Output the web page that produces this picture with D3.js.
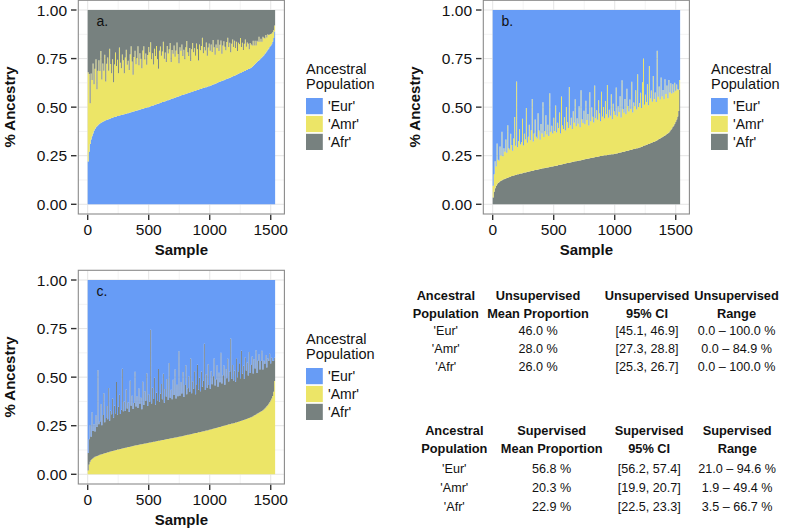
<!DOCTYPE html>
<html>
<head>
<meta charset="utf-8">
<script src="https://cdn.jsdelivr.net/npm/d3@7"></script>
<style>
  html, body { margin: 0; padding: 0; background: #fff; }
  svg { display: block; }
  text { font-family: "Liberation Sans", Arial, Helvetica, sans-serif; fill: #111; }
</style>
</head>
<body>
<svg id="chart" width="794" height="530"></svg>
<script>
// ---------------- DATA ----------------
const binSize = 8;              // samples represented by one value
const sampleTicks = [0, 500, 1000, 1500];
const pctTicks = [0, 0.25, 0.5, 0.75, 1];
const pctTickLabels = ["0.00", "0.25", "0.50", "0.75", "1.00"];
const legendLabels = ["'Eur'", "'Amr'", "'Afr'"];
const legendTitle = ["Ancestral", "Population"];

// Panel a: sorted by Eur (bottom), Amr middle, Afr top
const aEur = [0.22,0.27,0.31,0.333,0.35,0.365,0.378,0.388,0.396,0.402,0.407,0.412,0.416,
0.419,0.422,0.425,0.427,0.43,0.432,0.434,0.436,0.438,0.44,0.442,0.444,0.446,0.448,0.449,0.451,0.452,0.454,0.455,0.457,0.458,0.46,0.461,0.462,0.464,
0.465,0.466,0.468,0.469,0.471,0.472,0.474,0.475,0.477,0.478,0.48,0.481,0.483,0.484,0.486,0.487,0.489,0.49,0.492,0.493,0.495,0.496,0.498,0.499,0.5,
0.502,0.504,0.506,0.508,0.509,0.511,0.513,0.515,0.517,0.518,0.52,0.522,0.524,0.526,0.527,0.529,0.531,0.533,0.535,0.536,0.538,0.54,0.542,0.544,0.545,0.547,0.549,0.551,0.553,0.554,0.556,0.558,0.56,
0.562,0.563,0.565,0.567,0.568,0.57,0.572,0.573,0.575,0.577,0.578,0.58,0.582,0.583,0.585,0.587,0.588,0.59,0.592,0.593,0.595,0.597,0.598,0.6,0.602,0.603,0.605,0.607,0.608,0.61,
0.612,0.614,0.616,0.618,0.62,0.622,0.624,0.627,0.629,0.631,0.633,0.635,0.637,0.639,0.641,0.643,0.645,0.647,0.649,0.651,0.653,0.656,0.658,0.66,0.662,
0.664,0.667,0.669,0.672,0.674,0.676,0.679,0.681,0.684,0.686,0.688,0.691,0.693,0.696,0.698,0.7,0.703,
0.707,0.712,0.717,0.722,0.727,0.732,0.737,0.742,0.747,0.752,0.757,0.762,0.767,
0.774,0.781,0.788,0.795,0.802,0.809,0.816,0.824,0.836,0.856,0.89];
const aAmr = [0.46,0.40,0.21,0.34,0.29,0.36,
0.24,0.31,0.35,0.19,0.28,0.33,
0.27,0.37,0.22,0.30,0.26,0.34,0.20,0.29,0.32,0.25,0.36,0.28,
0.23,0.30,0.18,0.27,0.33,0.26,0.29,0.22,0.35,0.27,0.24,0.31,0.28,0.21,
0.29,0.33,0.25,0.27,0.22,0.30,0.34,0.26,0.19,0.28,0.31,0.24,0.27,0.33,0.23,0.29,0.26,0.21,0.30,0.32,0.25,0.28,0.22,0.27,0.31,
0.28,0.33,0.24,0.27,0.21,0.29,0.25,0.30,0.23,0.18,0.27,0.29,0.24,0.26,0.31,0.22,0.25,0.20,0.28,0.24,0.26,0.29,0.19,0.25,0.23,0.27,0.21,0.24,0.28,0.22,0.17,0.25,0.23,
0.26,0.20,0.23,0.18,0.24,0.27,0.21,0.19,0.23,0.16,0.22,0.25,0.20,0.22,0.18,0.24,0.21,0.15,0.23,0.20,0.22,0.26,0.18,0.21,0.19,0.23,0.16,0.20,0.22,0.18,
0.21,0.17,0.23,0.19,0.15,0.20,0.18,0.22,0.16,0.19,0.21,0.14,0.18,0.20,0.17,0.15,0.19,0.21,0.16,0.18,0.13,0.17,0.19,0.15,0.18,
0.14,0.17,0.12,0.16,0.15,0.18,0.13,0.15,0.11,0.14,0.16,0.12,0.14,0.13,0.10,0.13,0.12,
0.11,0.13,0.10,0.12,0.09,0.11,0.10,0.12,0.09,0.10,0.08,0.10,0.09,
0.08,0.09,0.07,0.08,0.07,0.065,0.06,0.055,0.05,0.04,0.03];

// Panel b: sorted by Afr (bottom), Amr middle, Eur top
const bAfr = [0.035,0.065,0.082,0.094,0.103,0.109,0.114,0.118,0.121,0.124,0.127,0.129,0.131,0.133,0.135,0.137,0.139,0.141,0.143,0.145,0.146,0.148,0.149,0.151,0.152,0.154,
0.155,0.156,0.158,0.159,0.16,0.162,0.163,0.164,0.165,0.167,0.168,0.169,
0.17,0.171,0.172,0.173,0.175,0.176,0.177,0.178,0.179,0.18,0.182,0.183,0.184,0.185,0.186,0.187,0.188,0.189,0.19,0.191,0.192,0.193,0.194,0.195,0.196,
0.197,0.198,0.199,0.2,0.202,0.203,0.204,0.205,0.206,0.207,0.208,0.21,0.211,0.212,0.213,0.214,0.215,0.216,0.218,0.219,0.22,0.221,0.222,0.223,0.224,0.225,0.226,0.227,0.228,0.229,0.231,
0.232,0.233,0.234,0.235,0.236,0.237,0.238,0.239,0.24,0.241,0.242,0.243,0.244,0.245,0.246,0.247,0.248,0.249,0.25,0.251,0.252,0.252,0.253,0.254,0.255,0.256,0.256,0.257,0.258,0.258,0.259,
0.26,0.261,0.262,0.264,0.265,0.266,0.267,0.269,0.27,0.271,0.272,0.274,0.275,0.276,0.277,0.279,0.28,0.281,0.283,0.284,0.285,0.287,0.288,0.289,0.291,
0.292,0.294,0.296,0.298,0.3,0.302,0.304,0.306,0.308,0.31,0.312,0.314,0.316,0.318,0.32,0.322,0.325,0.327,0.33,
0.333,0.336,0.339,0.342,0.345,0.348,0.351,0.354,0.358,0.362,0.366,0.37,
0.376,0.383,0.39,0.398,0.406,0.415,0.425,0.437,0.452,0.48,0.59];
const bAmr = [0.06,0.09,0.14,0.10,0.21,0.12,0.11,0.18,0.13,0.25,0.12,0.16,
0.14,0.20,0.13,0.27,0.15,0.14,0.22,0.16,0.13,0.19,0.30,0.15,0.48,0.14,
0.17,0.23,0.15,0.16,0.28,0.14,0.20,0.17,0.33,0.15,0.18,0.24,
0.16,0.21,0.37,0.15,0.19,0.26,0.17,0.16,0.29,0.20,0.15,0.23,0.18,0.34,0.16,0.19,0.27,0.17,0.22,0.16,0.38,0.18,0.21,0.17,0.25,
0.18,0.31,0.17,0.22,0.19,0.27,0.16,0.35,0.20,0.18,0.24,0.17,0.29,0.21,0.18,0.39,0.19,0.23,0.17,0.26,0.20,0.32,0.18,0.22,0.19,0.28,0.17,0.36,0.21,0.19,0.25,
0.18,0.30,0.20,0.23,0.17,0.34,0.19,0.26,0.21,0.18,0.37,0.20,0.24,0.19,0.29,0.22,0.18,0.33,0.20,0.25,0.19,0.28,0.21,0.36,0.19,0.23,0.20,0.31,0.18,0.26,0.22,
0.20,0.34,0.19,0.24,0.21,0.29,0.18,0.37,0.22,0.20,0.27,0.19,0.32,0.23,0.20,0.26,0.21,0.35,0.19,0.24,0.22,0.30,0.20,0.38,0.21,
0.23,0.28,0.20,0.33,0.45,0.21,0.26,0.22,0.31,0.20,0.40,0.23,0.27,0.21,0.34,0.22,0.25,0.20,0.46,
0.22,0.27,0.20,0.31,0.21,0.24,0.19,0.29,0.21,0.25,0.18,0.27,
0.20,0.24,0.18,0.22,0.17,0.21,0.16,0.18,0.14,0.11,0.05];

// Panel c: sorted by Amr (bottom), Afr middle, Eur top
const cAmr = [0.02,0.05,0.064,0.073,0.079,0.083,0.087,0.09,0.092,0.094,0.096,0.098,0.1,0.102,0.103,0.105,0.107,0.108,0.11,0.111,0.113,0.114,0.116,0.117,0.119,0.12,
0.121,0.123,0.124,0.125,0.127,0.128,0.129,0.13,0.132,0.133,0.134,0.135,
0.136,0.137,0.139,0.14,0.141,0.142,0.143,0.144,0.146,0.147,0.148,0.149,0.15,0.151,0.152,0.153,0.154,0.155,0.156,0.157,0.158,0.159,0.16,0.161,0.162,
0.163,0.164,0.165,0.166,0.167,0.168,0.169,0.17,0.171,0.172,0.173,0.174,0.175,0.176,0.177,0.178,0.179,0.18,0.181,0.182,0.183,0.184,0.185,0.186,0.187,0.188,0.189,0.19,0.191,0.192,0.193,
0.194,0.195,0.196,0.197,0.198,0.2,0.201,0.202,0.203,0.204,0.205,0.206,0.207,0.209,0.21,0.211,0.212,0.213,0.214,0.216,0.217,0.218,0.219,0.22,0.221,0.222,0.224,0.225,0.226,0.227,0.229,
0.23,0.231,0.233,0.234,0.236,0.237,0.238,0.24,0.241,0.243,0.244,0.245,0.247,0.248,0.25,0.251,0.252,0.254,0.255,0.257,0.258,0.259,0.261,0.262,0.263,
0.264,0.266,0.267,0.269,0.271,0.272,0.274,0.276,0.277,0.279,0.281,0.282,0.284,0.286,0.288,0.29,0.292,0.294,0.296,
0.299,0.302,0.305,0.308,0.311,0.314,0.317,0.32,0.323,0.326,0.33,0.334,
0.339,0.344,0.35,0.356,0.363,0.371,0.38,0.39,0.403,0.425,0.48];
const cAfr = [0.09,0.13,0.19,0.12,0.24,0.14,0.17,0.13,0.21,0.15,0.44,0.16,
0.17,0.26,0.15,0.20,0.31,0.16,0.18,0.24,0.17,0.33,0.16,0.21,0.19,0.27,
0.17,0.23,0.19,0.35,0.18,0.22,0.28,0.18,0.20,0.41,0.19,0.24,
0.19,0.30,0.20,0.23,0.18,0.34,0.21,0.26,0.19,0.22,0.38,0.20,0.25,0.19,0.29,0.21,0.24,0.18,0.32,0.20,0.27,0.22,0.36,0.19,0.25,
0.21,0.58,0.20,0.28,0.22,0.33,0.19,0.25,0.21,0.37,0.20,0.24,0.29,0.21,0.34,0.19,0.26,0.22,0.31,0.20,0.39,0.21,0.25,0.20,0.30,0.22,0.35,0.20,0.27,0.21,0.44,
0.21,0.28,0.22,0.33,0.20,0.26,0.36,0.21,0.24,0.30,0.22,0.39,0.21,0.27,0.23,0.32,0.20,0.25,0.35,0.22,0.28,0.21,0.31,0.23,0.26,0.45,0.21,0.29,0.22,0.34,0.23,
0.21,0.30,0.23,0.27,0.36,0.22,0.25,0.32,0.21,0.28,0.23,0.38,0.22,0.26,0.31,0.21,0.29,0.24,0.34,0.22,0.27,0.44,0.23,0.30,0.22,
0.27,0.21,0.33,0.23,0.26,0.30,0.22,0.36,0.24,0.28,0.21,0.32,0.25,0.29,0.22,0.34,0.23,0.27,0.31,
0.22,0.29,0.24,0.33,0.21,0.27,0.30,0.22,0.26,0.31,0.21,0.25,
0.23,0.27,0.20,0.24,0.22,0.25,0.19,0.21,0.18,0.16,0.12];

// Summary tables
const tablePopulations = ["'Eur'", "'Amr'", "'Afr'"];
const unsupHeader = [["Ancestral","Population"],["Unsupervised","Mean Proportion"],["Unsupervised","95% CI"],["Unsupervised","Range"]];
const unsupMean = ["46.0 %", "28.0 %", "26.0 %"];
const unsupCI = ["[45.1, 46.9]", "[27.3, 28.8]", "[25.3, 26.7]"];
const unsupRange = ["0.0 \u2013 100.0 %", "0.0 \u2013 84.9 %", "0.0 \u2013 100.0 %"];
const supHeader = [["Ancestral","Population"],["Supervised","Mean Proportion"],["Supervised","95% CI"],["Supervised","Range"]];
const supMean = ["56.8 %", "20.3 %", "22.9 %"];
const supCI = ["[56.2, 57.4]", "[19.9, 20.7]", "[22.5, 23.3]"];
const supRange = ["21.0 \u2013 94.6 %", "1.9 \u2013 49.4 %", "3.5 \u2013 66.7 %"];

// ---------------- STYLE ----------------
const colors = { Eur: "#679cf6", Amr: "#ece567", Afr: "#77817f" };
const svg = d3.select("#chart");

function drawPanel(ox, oy, label, bottom, middle, keys) {
  const g = svg.append("g").attr("transform", `translate(${ox},${oy})`);
  const left = 78.3, right = 284.4, top = 0.3, bot = 214.0;
  const nBins = Math.min(bottom.length, middle.length);
  const x = d3.scaleLinear().domain([-77, 1612]).range([left, right]);
  const y = d3.scaleLinear().domain([-0.05, 1.05]).range([bot, top]);

  // background + grid
  g.append("rect").attr("x", left).attr("y", top).attr("width", right - left).attr("height", bot - top).attr("fill", "#fff");
  const minorX = [250, 750, 1250], minorY = [0.125, 0.375, 0.625, 0.875];
  g.selectAll(".mgx").data(minorX).join("line").attr("x1", d => x(d)).attr("x2", d => x(d)).attr("y1", top).attr("y2", bot).attr("stroke", "#f3f3f3");
  g.selectAll(".mgy").data(minorY).join("line").attr("y1", d => y(d)).attr("y2", d => y(d)).attr("x1", left).attr("x2", right).attr("stroke", "#f3f3f3");
  g.selectAll(".gx").data(sampleTicks).join("line").attr("x1", d => x(d)).attr("x2", d => x(d)).attr("y1", top).attr("y2", bot).attr("stroke", "#e4e4e4");
  g.selectAll(".gy").data(pctTicks).join("line").attr("y1", d => y(d)).attr("y2", d => y(d)).attr("x1", left).attr("x2", right).attr("stroke", "#e4e4e4");

  // stacked data
  const rows = d3.range(nBins).map(i => ({ [keys[0]]: bottom[i], [keys[1]]: middle[i], [keys[2]]: Math.max(0, 1 - bottom[i] - middle[i]) }));
  const series = d3.stack().keys(keys)(rows);
  const area = d3.area()
    .x(d => x(d.idx * binSize))
    .y0(d => y(d.v[0])).y1(d => y(d.v[1]))
    .curve(d3.curveStepAfter);
  series.forEach(s => {
    const pts = s.map((v, i) => ({ idx: i, v }));
    pts.push({ idx: nBins, v: s[nBins - 1] });
    g.append("path").attr("d", area(pts)).attr("fill", colors[s.key]);
  });

  // border
  g.append("rect").attr("x", left).attr("y", top).attr("width", right - left).attr("height", bot - top)
    .attr("fill", "none").attr("stroke", "#8a8a8a").attr("stroke-width", 1.1);

  // y ticks
  g.selectAll(".yt").data(pctTicks).join("line").attr("x1", 71).attr("x2", 76.5)
    .attr("y1", d => y(d)).attr("y2", d => y(d)).attr("stroke", "#333").attr("stroke-width", 1.4);
  g.selectAll(".yl").data(pctTicks).join("text").attr("x", 67).attr("y", d => y(d) + 5.6)
    .attr("text-anchor", "end").attr("font-size", 15.5).text((d, i) => pctTickLabels[i]);
  // x ticks
  g.selectAll(".xt").data(sampleTicks).join("line").attr("y1", bot + 0.8).attr("y2", bot + 6)
    .attr("x1", d => x(d)).attr("x2", d => x(d)).attr("stroke", "#333").attr("stroke-width", 1.4);
  g.selectAll(".xl").data(sampleTicks).join("text").attr("x", d => x(d)).attr("y", 235)
    .attr("text-anchor", "middle").attr("font-size", 15.5).text(d => d);

  // axis titles
  g.append("text").attr("x", (left + right) / 2).attr("y", 255).attr("text-anchor", "middle")
    .attr("font-size", 15).attr("font-weight", "bold").text("Sample");
  g.append("text").attr("transform", `translate(14.5,107) rotate(-90)`).attr("text-anchor", "middle")
    .attr("font-size", 15).attr("font-weight", "bold").text("% Ancestry");

  // panel label
  g.append("text").attr("x", 96.5).attr("y", 26).attr("font-size", 14).text(label);

  // legend
  const lg = g.append("g").attr("transform", "translate(306,0)");
  lg.selectAll(".lt").data(legendTitle).join("text").attr("x", 0).attr("y", (d, i) => 73.5 + i * 15)
    .attr("font-size", 14.5).text(d => d);
  const legKeys = ["Eur", "Amr", "Afr"];
  lg.selectAll(".lk").data(legKeys).join("rect").attr("x", 0).attr("y", (d, i) => 98 + i * 17.9)
    .attr("width", 16.8).attr("height", 16.2).attr("fill", d => colors[d]);
  lg.selectAll(".ll").data(legendLabels).join("text").attr("x", 22).attr("y", (d, i) => 111.3 + i * 17.9)
    .attr("font-size", 14).text(d => d);
}

drawPanel(0, 0, "a.", aEur, aAmr, ["Eur", "Amr", "Afr"]);
drawPanel(405, 0, "b.", bAfr, bAmr, ["Afr", "Amr", "Eur"]);
drawPanel(0, 270, "c.", cAmr, cAfr, ["Amr", "Afr", "Eur"]);

// tables
function drawTable(header, cols, colX, headY, rowY) {
  const g = svg.append("g");
  header.forEach((h, c) => {
    h.forEach((line, k) => {
      g.append("text").attr("x", colX[c]).attr("y", headY[k]).attr("text-anchor", "middle")
        .attr("font-size", 12.8).attr("font-weight", "bold").text(line);
    });
  });
  cols.forEach((col, c) => {
    col.forEach((v, r) => {
      g.append("text").attr("x", colX[c]).attr("y", rowY[r]).attr("text-anchor", "middle")
        .attr("font-size", 12.6).text(v);
    });
  });
}
drawTable(unsupHeader, [tablePopulations, unsupMean, unsupCI, unsupRange],
  [445.8, 538, 647, 736.5], [299.5, 317.8], [334.5, 352.8, 371.2]);
drawTable(supHeader, [tablePopulations, supMean, supCI, supRange],
  [454.3, 551.7, 649.2, 737.2], [434.5, 452.8], [472.8, 491.5, 511.2]);
</script>
</body>
</html>
